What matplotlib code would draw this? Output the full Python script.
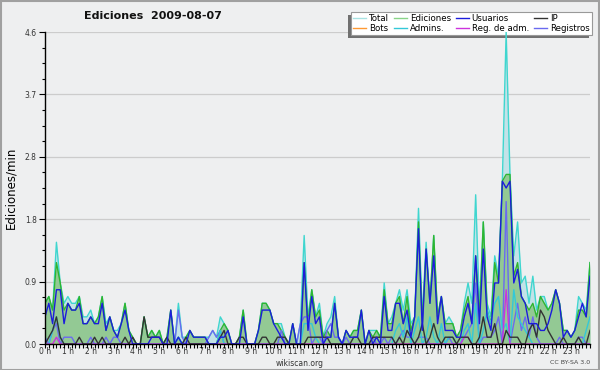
import numpy as np
import matplotlib
matplotlib.use("Agg")
import matplotlib.pyplot as plt
from matplotlib.patches import Rectangle
from matplotlib.lines import Line2D

# ---------------- data (10-minute bins, edits per minute) ----------------
hour_labels = [f"{h} h" for h in range(24)]

total = [
    0.6, 0.7, 0.5, 1.5, 0.9, 0.6,   0.7, 0.6, 0.6, 0.7, 0.4, 0.4,
    0.5, 0.3, 0.4, 0.7, 0.3, 0.4,   0.2, 0.2, 0.3, 0.6, 0.2, 0.1,
    0.0, 0.0, 0.4, 0.1, 0.2, 0.1,   0.2, 0.0, 0.1, 0.5, 0.0, 0.6,
    0.1, 0.1, 0.2, 0.1, 0.1, 0.1,   0.1, 0.1, 0.2, 0.1, 0.4, 0.3,
    0.2, 0.0, 0.0, 0.1, 0.5, 0.0,   0.0, 0.0, 0.2, 0.6, 0.6, 0.5,
    0.3, 0.3, 0.3, 0.1, 0.0, 0.3,   0.0, 0.3, 1.6, 0.4, 0.8, 0.4,
    0.6, 0.1, 0.3, 0.4, 0.7, 0.1,   0.0, 0.2, 0.1, 0.2, 0.2, 0.5,
    0.0, 0.2, 0.2, 0.2, 0.1, 0.9,   0.3, 0.4, 0.6, 0.8, 0.5, 0.8,
    0.3, 0.4, 2.0, 0.4, 1.5, 0.6,   1.6, 0.4, 0.7, 0.3, 0.4, 0.3,
    0.1, 0.2, 0.6, 0.9, 0.6, 2.2,   0.5, 1.8, 0.6, 0.4, 1.3, 1.0,
    2.4, 4.6, 2.5, 1.3, 1.8, 0.9,   1.0, 0.6, 1.0, 0.5, 0.7, 0.7,
    0.5, 0.6, 0.8, 0.6, 0.2, 0.2,   0.1, 0.2, 0.7, 0.6, 0.5, 1.2,
]

ediciones = [
    0.6, 0.7, 0.5, 1.2, 0.9, 0.5,   0.6, 0.5, 0.5, 0.7, 0.3, 0.3,
    0.4, 0.3, 0.4, 0.7, 0.2, 0.4,   0.2, 0.1, 0.3, 0.6, 0.2, 0.1,
    0.0, 0.0, 0.4, 0.1, 0.2, 0.1,   0.2, 0.0, 0.1, 0.5, 0.0, 0.1,
    0.0, 0.1, 0.2, 0.1, 0.1, 0.1,   0.1, 0.0, 0.0, 0.0, 0.2, 0.3,
    0.2, 0.0, 0.0, 0.1, 0.5, 0.0,   0.0, 0.0, 0.2, 0.6, 0.6, 0.5,
    0.3, 0.3, 0.2, 0.1, 0.0, 0.3,   0.0, 0.0, 1.2, 0.3, 0.8, 0.4,
    0.5, 0.1, 0.2, 0.1, 0.6, 0.1,   0.0, 0.2, 0.1, 0.2, 0.2, 0.5,
    0.0, 0.2, 0.1, 0.2, 0.1, 0.8,   0.3, 0.3, 0.6, 0.7, 0.3, 0.7,
    0.2, 0.4, 1.8, 0.3, 1.4, 0.6,   1.6, 0.4, 0.7, 0.3, 0.3, 0.3,
    0.1, 0.2, 0.5, 0.7, 0.3, 1.3,   0.4, 1.8, 0.5, 0.3, 1.2, 0.9,
    2.4, 2.5, 2.5, 1.0, 1.2, 0.7,   0.6, 0.5, 0.6, 0.4, 0.7, 0.6,
    0.5, 0.6, 0.8, 0.6, 0.2, 0.2,   0.1, 0.2, 0.5, 0.5, 0.4, 1.2,
]

usuarios = [
    0.4, 0.6, 0.3, 0.8, 0.8, 0.3,   0.6, 0.5, 0.5, 0.6, 0.3, 0.3,
    0.4, 0.3, 0.3, 0.6, 0.2, 0.4,   0.2, 0.1, 0.3, 0.5, 0.2, 0.0,
    0.0, 0.0, 0.0, 0.0, 0.1, 0.1,   0.1, 0.0, 0.0, 0.5, 0.0, 0.1,
    0.0, 0.0, 0.2, 0.1, 0.1, 0.1,   0.1, 0.0, 0.0, 0.0, 0.1, 0.1,
    0.2, 0.0, 0.0, 0.0, 0.4, 0.0,   0.0, 0.0, 0.2, 0.5, 0.5, 0.5,
    0.3, 0.2, 0.1, 0.0, 0.0, 0.3,   0.0, 0.0, 1.2, 0.2, 0.7, 0.3,
    0.4, 0.0, 0.1, 0.1, 0.6, 0.1,   0.0, 0.2, 0.1, 0.1, 0.1, 0.5,
    0.0, 0.2, 0.0, 0.1, 0.0, 0.7,   0.2, 0.2, 0.6, 0.6, 0.3, 0.5,
    0.1, 0.4, 1.7, 0.2, 1.4, 0.6,   1.3, 0.3, 0.7, 0.2, 0.2, 0.2,
    0.1, 0.1, 0.4, 0.6, 0.3, 1.3,   0.3, 1.4, 0.4, 0.2, 0.9, 0.9,
    2.4, 2.3, 2.4, 0.9, 1.1, 0.7,   0.6, 0.3, 0.3, 0.3, 0.2, 0.2,
    0.3, 0.5, 0.8, 0.6, 0.1, 0.2,   0.1, 0.2, 0.4, 0.6, 0.4, 1.0,
]

ip = [
    0.0, 0.1, 0.2, 0.4, 0.1, 0.0,   0.0, 0.0, 0.0, 0.1, 0.0, 0.0,
    0.0, 0.1, 0.0, 0.1, 0.0, 0.0,   0.0, 0.0, 0.0, 0.1, 0.0, 0.1,
    0.0, 0.0, 0.4, 0.1, 0.1, 0.1,   0.1, 0.0, 0.1, 0.0, 0.0, 0.0,
    0.0, 0.1, 0.0, 0.0, 0.0, 0.0,   0.0, 0.0, 0.0, 0.0, 0.1, 0.2,
    0.0, 0.0, 0.0, 0.1, 0.1, 0.0,   0.0, 0.0, 0.0, 0.1, 0.1, 0.0,
    0.0, 0.1, 0.1, 0.1, 0.0, 0.0,   0.0, 0.0, 0.0, 0.1, 0.1, 0.1,
    0.1, 0.1, 0.1, 0.0, 0.0, 0.0,   0.0, 0.0, 0.0, 0.1, 0.1, 0.0,
    0.0, 0.0, 0.1, 0.1, 0.1, 0.1,   0.1, 0.1, 0.0, 0.1, 0.0, 0.2,
    0.1, 0.0, 0.1, 0.3, 0.0, 0.1,   0.3, 0.1, 0.0, 0.1, 0.1, 0.1,
    0.0, 0.1, 0.1, 0.1, 0.0, 0.0,   0.1, 0.4, 0.1, 0.1, 0.3, 0.0,
    0.0, 0.2, 0.1, 0.1, 0.1, 0.0,   0.0, 0.2, 0.3, 0.1, 0.5, 0.4,
    0.2, 0.1, 0.0, 0.0, 0.1, 0.0,   0.0, 0.0, 0.1, 0.0, 0.0, 0.2,
]

bots = [0.0] * 144

admins = [
    0.0, 0.0, 0.2, 0.4, 0.1, 0.0,   0.0, 0.0, 0.0, 0.0, 0.0, 0.0,
    0.0, 0.0, 0.0, 0.0, 0.0, 0.0,   0.0, 0.0, 0.0, 0.0, 0.0, 0.0,
    0.0, 0.0, 0.0, 0.0, 0.0, 0.0,   0.0, 0.0, 0.0, 0.0, 0.0, 0.1,
    0.0, 0.0, 0.0, 0.0, 0.0, 0.0,   0.0, 0.0, 0.0, 0.0, 0.2, 0.0,
    0.0, 0.0, 0.0, 0.0, 0.0, 0.0,   0.0, 0.0, 0.0, 0.0, 0.0, 0.0,
    0.0, 0.0, 0.0, 0.0, 0.0, 0.0,   0.0, 0.0, 0.3, 0.3, 0.3, 0.1,
    0.0, 0.0, 0.0, 0.0, 0.0, 0.0,   0.0, 0.0, 0.0, 0.0, 0.0, 0.0,
    0.0, 0.0, 0.0, 0.0, 0.0, 0.0,   0.0, 0.0, 0.2, 0.3, 0.1, 0.4,
    0.0, 0.2, 0.4, 0.0, 0.1, 0.4,   0.1, 0.0, 0.3, 0.0, 0.1, 0.1,
    0.0, 0.0, 0.2, 0.3, 0.0, 0.6,   0.0, 0.2, 0.5, 0.3, 0.6, 0.7,
    0.2, 0.3, 0.0, 0.8, 0.4, 0.3,   0.2, 0.1, 0.0, 0.0, 0.0, 0.0,
    0.0, 0.0, 0.0, 0.0, 0.0, 0.0,   0.0, 0.0, 0.0, 0.0, 0.2, 0.4,
]

reg_adm = [0.0] * 144
reg_adm_bins = [3, 110, 111, 121]
reg_adm_vals = [0.1, 0.1, 0.1, 0.8]
for b, v in zip(reg_adm_bins, reg_adm_vals):
    reg_adm[b] = v

registros = [
    0.1, 0.0, 0.2, 0.3, 0.0, 0.1,   0.1, 0.1, 0.0, 0.0, 0.0, 0.0,
    0.1, 0.0, 0.0, 0.0, 0.1, 0.0,   0.1, 0.1, 0.0, 0.0, 0.0, 0.0,
    0.0, 0.0, 0.0, 0.0, 0.0, 0.0,   0.0, 0.0, 0.0, 0.0, 0.0, 0.5,
    0.1, 0.0, 0.0, 0.0, 0.0, 0.0,   0.0, 0.1, 0.2, 0.1, 0.2, 0.0,
    0.0, 0.0, 0.0, 0.0, 0.0, 0.0,   0.0, 0.0, 0.0, 0.0, 0.0, 0.0,
    0.0, 0.0, 0.2, 0.0, 0.0, 0.0,   0.0, 0.3, 0.4, 0.4, 0.0, 0.1,
    0.1, 0.0, 0.2, 0.3, 0.1, 0.1,   0.0, 0.1, 0.0, 0.0, 0.0, 0.0,
    0.0, 0.0, 0.1, 0.0, 0.0, 0.1,   0.0, 0.1, 0.0, 0.1, 0.2, 0.1,
    0.1, 0.0, 0.1, 0.1, 0.1, 0.0,   0.0, 0.0, 0.0, 0.0, 0.1, 0.0,
    0.0, 0.0, 0.1, 0.2, 0.3, 0.9,   0.0, 0.1, 0.1, 0.1, 0.2, 0.4,
    0.0, 2.1, 0.0, 0.3, 0.6, 0.2,   0.4, 0.1, 0.4, 0.1, 0.0, 0.0,
    0.0, 0.0, 0.0, 0.1, 0.0, 0.0,   0.0, 0.0, 0.1, 0.1, 0.0, 0.0,
]

y_max = 4.6

# ---------------- style ----------------
BG = "#eeeff0"
C_TOTAL_FILL = "#c3e2e8"
C_TOTAL_LINE = "#3fd6cf"
C_ED_FILL = "#93c994"
C_ED_LINE = "#2fb52f"
C_US = "#1c1cdc"
C_IP = "#333333"
C_BOTS = "#ff9933"
C_ADM = "#33c8d8"
C_REGADM = "#cc33dd"
C_REG = "#6a6af0"

x = np.arange(len(total))

fig = plt.figure(figsize=(6, 3.7), dpi=100, facecolor=BG)
ax = fig.add_axes([45 / 600, 26 / 370, 545 / 600, 312 / 370])
ax.set_facecolor(BG)

ax.fill_between(x, total, 0, color=C_TOTAL_FILL, lw=0, zorder=2)
ax.fill_between(x, ediciones, 0, color=C_ED_FILL, lw=0, zorder=2.1)

lw = 1.0
ax.plot(x, bots, color=C_BOTS, lw=lw, zorder=3)
ax.plot(x, total, color=C_TOTAL_LINE, lw=lw, zorder=3.1)
ax.plot(x, ediciones, color=C_ED_LINE, lw=lw, zorder=3.2)
ax.plot(x, registros, color=C_REG, lw=lw, zorder=3.3)
ax.plot(x, admins, color=C_ADM, lw=lw, zorder=3.4)
ax.plot(x, reg_adm, color=C_REGADM, lw=lw, zorder=3.5)
ax.plot(x, ip, color=C_IP, lw=lw, zorder=3.6)
ax.plot(x, usuarios, color=C_US, lw=lw, zorder=3.7)

ax.set_xlim(0, len(total) - 1)
ax.set_ylim(0, y_max)

# y axis
yt = np.linspace(0, y_max, 6)
ax.set_yticks(yt)
ax.set_yticklabels([f"{v:.1f}" for v in yt])
ax.set_yticks(np.linspace(0, y_max, 21), minor=True)
ax.yaxis.grid(True, which="major", color="#cccccc", lw=0.9, zorder=0.5)
ax.set_axisbelow(True)

# x axis
ax.set_xticks(np.arange(0, len(total), 6))
ax.set_xticklabels(hour_labels)
ax.set_xticks(x, minor=True)

ax.tick_params(axis="both", which="both", direction="out", color="black",
               width=0.8, labelcolor="#333333", labelsize=5.5)
ax.tick_params(axis="y", which="major", length=4.5, pad=1.5)
ax.tick_params(axis="y", which="minor", length=2.5)
ax.tick_params(axis="x", which="both", length=2.8, pad=-0.5)

for s in ("top", "right"):
    ax.spines[s].set_visible(False)
for s in ("left", "bottom"):
    ax.spines[s].set_color("black")
    ax.spines[s].set_linewidth(1.0)
    ax.spines[s].set_zorder(4)

ax.set_ylabel("Ediciones/min", fontsize=8.5, color="black", labelpad=5)

fig.text(153 / 600, 1 - 16 / 370, "Ediciones  2009-08-07", ha="center",
         va="center", fontsize=8, fontweight="bold", color="#111111")
fig.text(300 / 600, 1 - 363 / 370, "wikiscan.org", ha="center", va="center",
         fontsize=5.5, color="#333333")
fig.text(590 / 600, 1 - 363 / 370, "CC BY-SA 3.0", ha="right", va="center",
         fontsize=4.5, color="#444444")

# legend
labels = ["Total", "Bots", "Ediciones", "Admins.", "Usuarios",
          "Reg. de adm.", "IP", "Registros"]
colors = ["#a8e2e2", C_BOTS, "#88d488", C_ADM, C_US, C_REGADM, C_IP, C_REG]
handles = [Line2D([], [], color=c, lw=1) for c in colors]
leg = ax.legend(handles, labels, ncol=4, fontsize=6.2, loc="upper right",
                bbox_to_anchor=(592 / 600, 1 - 11.5 / 370),
                bbox_transform=fig.transFigure, borderaxespad=0,
                handlelength=1.5, handletextpad=0.35, columnspacing=0.55,
                labelspacing=0.05, borderpad=0.3, frameon=True,
                fancybox=False, edgecolor="#999999", facecolor="white",
                framealpha=1)
leg.set_zorder(2.6)
leg.get_frame().set_linewidth(0.8)

fig.canvas.draw()
bb = leg.get_window_extent()
W, H = fig.bbox.width, fig.bbox.height
shadow = Rectangle(((bb.x0 - 3) / W, (bb.y0 - 3) / H), bb.width / W, bb.height / H,
                   transform=fig.transFigure, color="#707070", lw=0,
                   zorder=2.55, clip_on=False)
ax.add_patch(shadow)

fig.patches.append(Rectangle((0.001, 0.001), 0.998, 0.997, transform=fig.transFigure,
                             fill=False, ec="#a0a0a0", lw=1.5, zorder=10))

fig.savefig("out.png", dpi=100, facecolor=BG)
